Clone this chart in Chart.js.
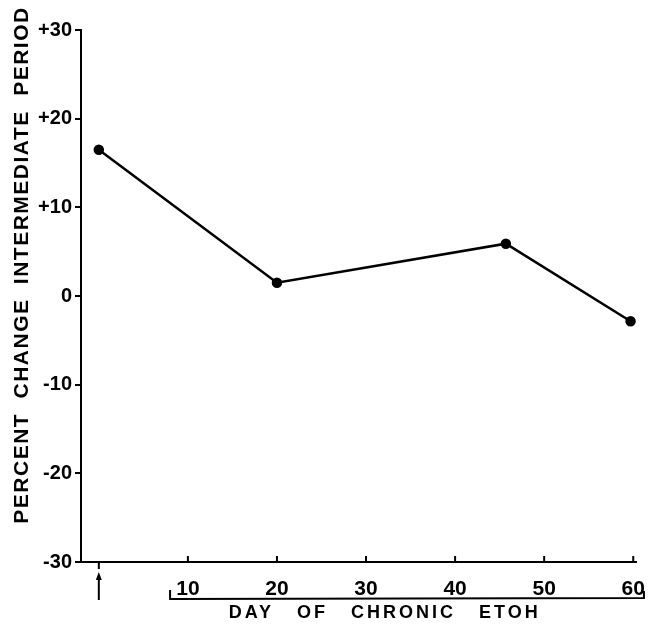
<!DOCTYPE html>
<html>
<head>
<meta charset="utf-8">
<script src="https://cdn.jsdelivr.net/npm/chart.js@4"></script>
<style>
  body { margin: 0; background: #fff; }
  #wrap { width: 652px; height: 624px; }
</style>
</head>
<body>
<div id="wrap"><canvas id="etohChart"></canvas></div>
<script>
// Data
const days = [0, 20, 45.7, 59.7];
const pctChange = [16.5, 1.5, 5.9, -2.85];
const xTickDays = [10, 20, 30, 40, 50, 60];
const yTickValues = [-30, -20, -10, 0, 10, 20, 30];
const yTitle = 'PERCENT CHANGE INTERMEDIATE PERIOD';
const xTitle = 'DAY OF CHRONIC ETOH';
const baselineDay = 0;

const FONT = '"Liberation Sans", Arial, sans-serif';

// extra marks: inward x ticks, baseline arrow, bracket under the day labels, titles
const decorPlugin = {
  id: 'decor',
  afterDraw(chart) {
    const ctx = chart.ctx;
    const xs = chart.scales.x;
    const area = chart.chartArea;
    ctx.save();
    ctx.strokeStyle = '#000';
    ctx.fillStyle = '#000';
    ctx.lineWidth = 2;

    // small ticks pointing up into the plot
    xTickDays.forEach(d => {
      const px = xs.getPixelForValue(d);
      ctx.beginPath();
      ctx.moveTo(px, area.bottom);
      ctx.lineTo(px, area.bottom - 6);
      ctx.stroke();
    });

    // baseline tick + arrow
    const bx = xs.getPixelForValue(baselineDay);
    ctx.beginPath();
    ctx.moveTo(bx, area.bottom);
    ctx.lineTo(bx, area.bottom + 7);
    ctx.moveTo(bx, area.bottom + 38);
    ctx.lineTo(bx, area.bottom + 14);
    ctx.stroke();
    ctx.beginPath();
    ctx.moveTo(bx, area.bottom + 10);
    ctx.lineTo(bx - 3, area.bottom + 18);
    ctx.lineTo(bx + 3, area.bottom + 18);
    ctx.closePath();
    ctx.fill();

    // bracket under the day labels
    const left = xs.getPixelForValue(8);
    const right = xs.getPixelForValue(61.2);
    const by = area.bottom + 37;
    ctx.beginPath();
    ctx.moveTo(left, by - 9);
    ctx.lineTo(left, by);
    ctx.lineTo(right, by - 1);
    ctx.lineTo(right, by - 8);
    ctx.stroke();

    // x title
    ctx.font = 'bold 18px ' + FONT;
    ctx.letterSpacing = '3px';
    ctx.wordSpacing = '15px';
    ctx.textAlign = 'center';
    ctx.textBaseline = 'alphabetic';
    ctx.fillText(xTitle, xs.getPixelForValue(32.1), area.bottom + 56);

    // y title
    ctx.translate(22, 265);
    ctx.rotate(-Math.PI / 2);
    ctx.font = 'bold 21px ' + FONT;
    ctx.letterSpacing = '1.5px';
    ctx.wordSpacing = '7px';
    ctx.textBaseline = 'middle';
    ctx.fillText(yTitle, 0, 0);
    ctx.restore();
  }
};

const ctx = document.getElementById('etohChart').getContext('2d');

new Chart(ctx, {
  type: 'line',
  data: {
    datasets: [{
      data: days.map((d, i) => ({ x: d, y: pctChange[i] })),
      borderColor: '#000',
      backgroundColor: '#000',
      borderWidth: 2.5,
      pointRadius: 4,
      pointBackgroundColor: '#000',
      tension: 0,
      clip: false
    }]
  },
  options: {
    responsive: true,
    maintainAspectRatio: false,
    animation: false,
    layout: { padding: { top: 30, right: 15, left: 0, bottom: 0 } },
    plugins: {
      legend: { display: false },
      tooltip: { enabled: false }
    },
    scales: {
      x: {
        type: 'linear',
        min: -2,
        max: 60.35,
        afterBuildTicks: scale => { scale.ticks = xTickDays.map(v => ({ value: v })); },
        afterFit: scale => { scale.height = 62; },
        grid: { display: false },
        border: { display: true, color: '#000', width: 2 },
        ticks: {
          color: '#000',
          padding: 7,
          maxRotation: 0,
          font: { family: FONT, size: 21, weight: 'bold' }
        }
      },
      y: {
        min: -30,
        max: 30,
        afterBuildTicks: scale => { scale.ticks = yTickValues.map(v => ({ value: v })); },
        afterFit: scale => { scale.width = 81; },
        grid: { drawOnChartArea: false, color: '#000', lineWidth: 2, tickLength: 6 },
        border: { display: true, color: '#000', width: 2 },
        ticks: {
          color: '#000',
          padding: 3,
          font: { family: FONT, size: 20, weight: 'bold' },
          callback: v => (v > 0 ? '+' + v : String(v))
        }
      }
    }
  },
  plugins: [decorPlugin]
});
</script>
</body>
</html>
